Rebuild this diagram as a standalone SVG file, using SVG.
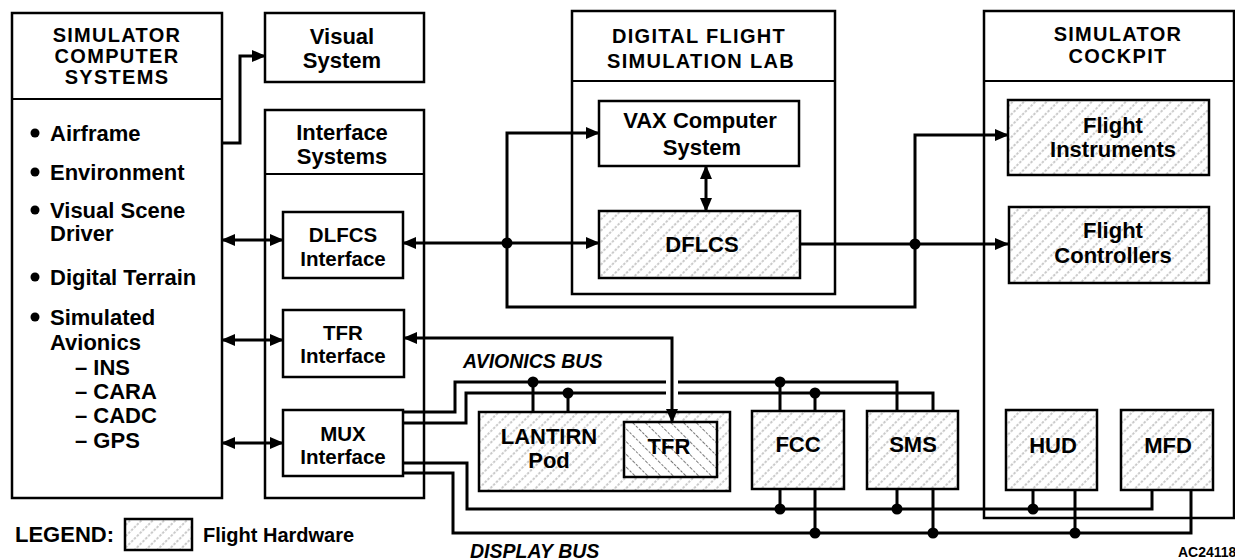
<svg xmlns="http://www.w3.org/2000/svg" width="1235" height="560" viewBox="0 0 1235 560">
<defs>
<pattern id="hatch" patternUnits="userSpaceOnUse" width="8" height="8" patternTransform="rotate(45)">
<rect width="8" height="8" fill="#fff"/>
<line x1="4" y1="0" x2="4" y2="8" stroke="#888" stroke-width="0.9" stroke-dasharray="2.5 1.5"/>
</pattern>
<pattern id="hatch2" patternUnits="userSpaceOnUse" width="9" height="9" patternTransform="rotate(-45)">
<rect width="9" height="9" fill="#fff"/>
<line x1="4.5" y1="0" x2="4.5" y2="9" stroke="#777" stroke-width="1" stroke-dasharray="2.5 1.5"/>
</pattern>
<marker id="ah" viewBox="0 0 14 12" refX="13" refY="6" markerWidth="14" markerHeight="12" markerUnits="userSpaceOnUse" orient="auto-start-reverse">
<path d="M0,0 L14,6 L0,12 z" fill="#000"/>
</marker>
</defs>
<style>
.box{fill:#fff;stroke:#000;stroke-width:2.5}
.hw{fill:url(#hatch);stroke:#000;stroke-width:2.5}
.div{stroke:#000;stroke-width:2}
text{font-family:"Liberation Sans",Arial,Helvetica,sans-serif;font-weight:bold;font-size:22px;fill:#000}
.c{text-anchor:middle}
.h{font-size:20px;letter-spacing:1.3px}
.t{font-size:20.5px}
.bus{font-style:italic;font-size:19.5px}
.ln{fill:none;stroke:#000;stroke-width:3}
.arr{fill:none;stroke:#000;stroke-width:3;marker-end:url(#ah)}
.arr2{fill:none;stroke:#000;stroke-width:3;marker-start:url(#ah);marker-end:url(#ah)}
.dot{fill:#000}
</style>
<rect width="1235" height="560" fill="#fff"/>

<g id="simulator-computer-systems">
<rect class="box" x="12" y="13" width="210" height="485"/>
<line class="div" x1="12" y1="99" x2="222" y2="99"/>
<text class="c h" x="117" y="42">SIMULATOR</text>
<text class="c h" x="117" y="63">COMPUTER</text>
<text class="c h" x="117" y="84">SYSTEMS</text>
<circle cx="35" cy="133" r="4.5"/><text x="50" y="141">Airframe</text>
<circle cx="35" cy="172" r="4.5"/><text x="50" y="180">Environment</text>
<circle cx="35" cy="210" r="4.5"/><text x="50" y="218">Visual Scene</text>
<text x="50" y="241">Driver</text>
<circle cx="35" cy="277" r="4.5"/><text x="50" y="285">Digital Terrain</text>
<circle cx="35" cy="317" r="4.5"/><text x="50" y="325">Simulated</text>
<text x="50" y="350">Avionics</text>
<text x="75" y="375">– INS</text>
<text x="75" y="399">– CARA</text>
<text x="75" y="423">– CADC</text>
<text x="75" y="448">– GPS</text>
</g>

<g id="visual-system">
<rect class="box" x="265" y="13" width="159" height="69"/>
<text class="c" x="342" y="44">Visual</text>
<text class="c" x="342" y="68">System</text>
</g>

<g id="interface-systems">
<rect class="box" x="265" y="110" width="159" height="388"/>
<line class="div" x1="265" y1="174" x2="424" y2="174"/>
<text class="c" x="342" y="140">Interface</text>
<text class="c" x="342" y="164">Systems</text>
</g>

<g id="dlfcs-interface">
<rect class="box" x="283" y="212" width="120" height="66"/>
<text class="c t" x="343" y="242">DLFCS</text>
<text class="c t" x="343" y="266">Interface</text>
</g>

<g id="tfr-interface">
<rect class="box" x="283" y="310" width="121" height="67"/>
<text class="c t" x="343" y="340">TFR</text>
<text class="c t" x="343" y="363">Interface</text>
</g>

<g id="mux-interface">
<rect class="box" x="283" y="410" width="120" height="66"/>
<text class="c t" x="343" y="441">MUX</text>
<text class="c t" x="343" y="464">Interface</text>
</g>

<g id="digital-flight-simulation-lab">
<rect class="box" x="572" y="11" width="263" height="283"/>
<line class="div" x1="572" y1="81" x2="835" y2="81"/>
<text class="c h" x="699" y="43">DIGITAL FLIGHT</text>
<text class="c h" x="701" y="68">SIMULATION LAB</text>
</g>

<g id="vax-computer-system">
<rect class="box" x="599" y="101" width="200" height="65"/>
<text class="c" x="700" y="128">VAX Computer</text>
<text class="c" x="702" y="155">System</text>
</g>

<g id="dflcs">
<rect class="hw" x="599" y="211" width="201" height="67"/>
<text class="c" x="702" y="252">DFLCS</text>
</g>

<g id="simulator-cockpit">
<rect class="box" x="984" y="11" width="250" height="507"/>
<line class="div" x1="984" y1="81" x2="1234" y2="81"/>
<text class="c h" x="1118" y="41">SIMULATOR</text>
<text class="c h" x="1118" y="63">COCKPIT</text>
</g>

<g id="flight-instruments">
<rect class="hw" x="1008" y="100" width="201" height="75"/>
<text class="c" x="1113" y="133">Flight</text>
<text class="c" x="1113" y="157">Instruments</text>
</g>

<g id="flight-controllers">
<rect class="hw" x="1009" y="207" width="200" height="76"/>
<text class="c" x="1113" y="238">Flight</text>
<text class="c" x="1113" y="263">Controllers</text>
</g>

<g id="lantirn-pod">
<rect class="hw" x="479" y="412" width="251" height="79"/>
<text class="c" x="549" y="444">LANTIRN</text>
<text class="c" x="549" y="468">Pod</text>
</g>

<g id="tfr">
<rect class="hw" x="624" y="422" width="93" height="55" style="fill:url(#hatch2)"/>
<text class="c" x="669" y="454">TFR</text>
</g>

<g id="fcc">
<rect class="hw" x="752" y="411" width="92" height="78"/>
<text class="c" x="798" y="452">FCC</text>
</g>

<g id="sms">
<rect class="hw" x="867" y="411" width="91" height="78"/>
<text class="c" x="913" y="452">SMS</text>
</g>

<g id="hud">
<rect class="hw" x="1006" y="410" width="91" height="80"/>
<text class="c" x="1053" y="453">HUD</text>
</g>

<g id="mfd">
<rect class="hw" x="1121" y="410" width="92" height="80"/>
<text class="c" x="1168" y="453">MFD</text>
</g>

<g id="connectors">
<path class="arr" d="M222,143 H240 V56 H265"/>
<path class="arr2" d="M222,240 H283"/>
<path class="arr2" d="M222,340 H283"/>
<path class="arr2" d="M222,443 H283"/>
<path class="arr2" d="M403,243 H599"/>
<path class="arr" d="M507,243 V133 H599"/>
<path class="arr" d="M507,243 V307 H915 V135 H1008"/>
<path class="arr" d="M800,244 H1008"/>
<path class="arr2" d="M706,166 V211"/>
<path class="arr2" d="M404,338 H672 V422"/>
<circle class="dot" cx="507" cy="243" r="5.5"/>
<circle class="dot" cx="915" cy="244" r="5.5"/>

<path class="ln" d="M403,412 H455 V382 H666"/>
<path class="ln" d="M678,382 H897 V411"/>
<path class="ln" d="M403,423 H466 V393 H666"/>
<path class="ln" d="M678,393 H933 V411"/>
<path class="ln" d="M533,382 V412 M568,393 V412 M780,382 V411 M815,393 V411"/>
<circle class="dot" cx="533" cy="382" r="5.5"/>
<circle class="dot" cx="568" cy="393" r="5.5"/>
<circle class="dot" cx="780" cy="382" r="5.5"/>
<circle class="dot" cx="815" cy="393" r="5.5"/>

<path class="ln" d="M403,463 H467 V509 H1152 V490"/>
<path class="ln" d="M403,473 H453 V533 H1191 V490"/>
<path class="ln" d="M780,489 V509 M815,489 V533 M897,489 V509 M933,489 V533 M1033,490 V509 M1075,490 V533"/>
<circle class="dot" cx="780" cy="509" r="5.5"/>
<circle class="dot" cx="815" cy="533" r="5.5"/>
<circle class="dot" cx="897" cy="509" r="5.5"/>
<circle class="dot" cx="933" cy="533" r="5.5"/>
<circle class="dot" cx="1033" cy="509" r="5.5"/>
<circle class="dot" cx="1075" cy="533" r="5.5"/>
</g>

<g id="labels">
<text class="bus" x="463" y="368">AVIONICS BUS</text>
<text class="bus" x="470" y="558">DISPLAY BUS</text>
<text x="1178" y="557" style="font-size:14px">AC24118</text>
</g>

<g id="legend">
<text x="15" y="542">LEGEND:</text>
<rect class="hw" x="125" y="519" width="67" height="31"/>
<text x="203" y="542" style="font-size:20px">Flight Hardware</text>
</g>
</svg>
